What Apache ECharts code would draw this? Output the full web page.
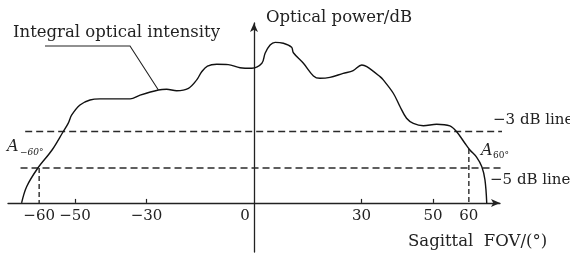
<!DOCTYPE html>
<html>
<head>
<meta charset="utf-8">
<script src="https://cdn.jsdelivr.net/npm/echarts@6/dist/echarts.min.js"></script>
<style>html,body{margin:0;padding:0;background:#fff}#c{width:570px;height:253px}</style>
</head>
<body>
<div id="c"></div>
<script>
// ---- data ----
var curveX = [-64.9,-63.5,-60.4,-56.4,-53.3,-51.9,-50.9,-48.6,-45.8,-43.0,-34.6,-31.8,-26.7,-24.4,-21.6,-18.3,-16.0,-14.6,-13.0,-10.4,-7.2,-3.9,-0.6,2.2,3.1,4.5,5.9,8.2,10.5,11.0,13.8,16.6,18.4,21.2,24.9,27.7,30.1,31.5,35.2,36.1,38.9,40.8,42.6,44.5,47.3,51.0,54.7,56.6,58.9,60.3,62.2,63.6,64.5,65.0];
var curveDb = [-6.91,-6.02,-5.01,-4.01,-3.01,-2.55,-2.09,-1.54,-1.27,-1.21,-1.21,-1.00,-0.72,-0.68,-0.76,-0.63,-0.17,0.28,0.59,0.69,0.67,0.50,0.47,0.74,1.29,1.74,1.89,1.84,1.62,1.32,0.74,0.05,-0.08,-0.03,0.19,0.34,0.65,0.56,0.01,-0.17,-0.90,-1.64,-2.27,-2.55,-2.68,-2.60,-2.69,-3.01,-3.64,-4.01,-4.41,-4.92,-5.65,-6.93];
var refLinesDb = [-3, -5];
var refLineLabels = ['\u22123 dB line', '\u22125 dB line'];
var markerX = [-60, 60];
var markerDb = [-5.0, -3.95];
var markerLabels = ['\u221260\u00b0', '60\u00b0'];
var tickLabelValues = [-60, -50, -30, 0, 30, 50, 60];
var tickMarkValues = [-50, -30, 30, 50];
var baselineDb = -6.91;
var seriesName = 'Integral optical intensity';
var yName = 'Optical power/dB';
var xName = 'Sagittal  FOV/(\u00b0)';

// ---- layout ----
var FONT = '"DejaVu Serif", "Liberation Serif", serif';
var xMin = -68.7, xMax = 68.7, yMin = -9.6, yMax = 2.95;
var gTop = 23, gBottomPx = 252, gLeft = 8, gRight = 70;
function yPx(v){ return gTop + (yMax - v) / (yMax - yMin) * (gBottomPx - gTop); }
var xAxisOffset = yPx(baselineDb) - gBottomPx;
var refLeft = [-63.9, -65.2], refRight = 72.2;

var curve = curveX.map(function(x, i){ return [x, curveDb[i]]; });
var series = [{
  name: seriesName, type: 'line', data: curve, smooth: 0.35, showSymbol: false,
  lineStyle: {color: '#111', width: 1.4}, clip: false, z: 5
}];
refLinesDb.forEach(function(db, i){
  series.push({type: 'line', data: [[refLeft[i], db], [refRight, db]], showSymbol: false, clip: false,
    lineStyle: {color: '#2a2a2a', width: 1.4, type: [7, 4]}, silent: true});
});
markerX.forEach(function(x, i){
  series.push({type: 'line', data: [[x, markerDb[i]], [x, baselineDb]], showSymbol: false, clip: false,
    lineStyle: {color: '#2a2a2a', width: 1.4, type: [5, 3]}, silent: true});
});

var chart = echarts.init(document.getElementById('c'), null, {renderer: 'canvas'});
chart.setOption({
  animation: false,
  backgroundColor: '#fff',
  grid: {left: gLeft, right: gRight, top: gTop, bottom: 253 - gBottomPx, containLabel: false, outerBoundsMode: 'none'},
  xAxis: {
    type: 'value', min: xMin, max: xMax, offset: xAxisOffset,
    axisLine: {onZero: false, symbol: ['none', 'arrow'], symbolSize: [6, 9], lineStyle: {color: '#222', width: 1.3}},
    axisTick: {show: true, inside: true, length: 4, customValues: tickMarkValues, lineStyle: {color: '#222', width: 1.2}},
    axisLabel: {customValues: tickLabelValues, margin: 6, fontFamily: FONT, fontSize: 15, color: '#222',
      formatter: function(v){ if (v === 0) return '{z|0}'; return (v < 0 ? '\u2212' : '') + Math.abs(v); },
      rich: {z: {fontFamily: FONT, fontSize: 15, color: '#222', padding: [0, 18, 0, 0]}}},
    splitLine: {show: false}
  },
  yAxis: {
    type: 'value', min: yMin, max: yMax,
    name: yName, nameLocation: 'end', nameGap: 5,
    nameTextStyle: {fontFamily: FONT, fontSize: 16.5, color: '#222', align: 'left', verticalAlign: 'middle', padding: [0, 0, 0, 12]},
    axisLine: {onZero: true, symbol: ['none', 'arrow'], symbolSize: [6, 9], lineStyle: {color: '#222', width: 1.3}},
    axisTick: {show: false}, axisLabel: {show: false}, splitLine: {show: false}
  },
  series: series
});

// annotations anchored with the chart's own coordinate conversion
var leaderEnd = chart.convertToPixel({gridIndex: 0}, curve[12]);
function txt(x, y, text, size, extra){
  var st = {text: text, font: (extra && extra.italic ? 'italic ' : '') + size + 'px ' + FONT, fill: '#222',
    align: (extra && extra.align) || 'left', verticalAlign: 'middle',
    textAlign: (extra && extra.align) || 'left', textVerticalAlign: 'middle'};
  return {type: 'text', x: x, y: y, style: st, z: 10};
}
var g = [
  {type: 'polyline', shape: {points: [[45, 46], [130, 46], leaderEnd]}, style: {stroke: '#222', lineWidth: 1.1, fill: null}, z: 10},
  txt(13, 33, seriesName, 16.5),
  txt(493, 120, refLineLabels[0], 15),
  txt(490, 180, refLineLabels[1], 15),
  txt(7, 147, 'A', 16, {italic: true}),
  txt(20, 153, markerLabels[0], 9, {italic: true}),
  txt(481, 151, 'A', 16, {italic: true}),
  txt(493, 156, markerLabels[1], 9),
  txt(408, 242, xName, 16.5)
];
chart.setOption({graphic: {elements: g}});
</script>
</body>
</html>
